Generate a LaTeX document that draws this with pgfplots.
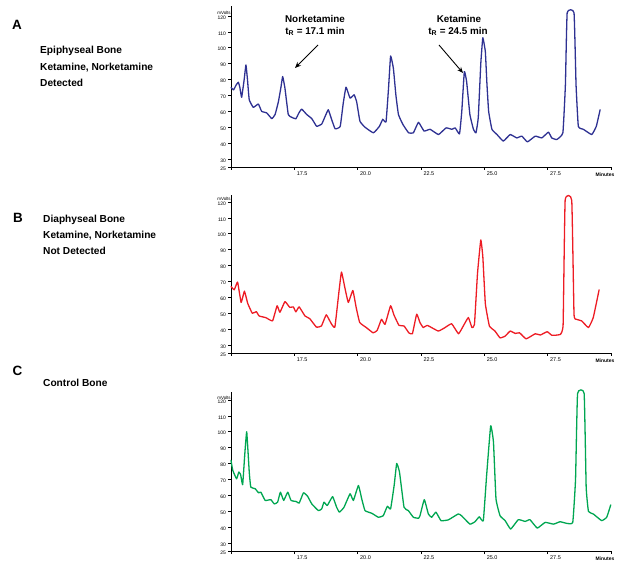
\documentclass[border=0pt]{standalone}
\usepackage{fontspec}
\setmainfont{Liberation Sans}
\usepackage{pgfplots}
\pgfplotsset{compat=1.18}
\usetikzlibrary{arrows.meta}
\definecolor{cA}{RGB}{46,49,146}
\definecolor{cB}{RGB}{237,28,36}
\definecolor{cC}{RGB}{0,166,81}
\pgfplotsset{chrom/.style={
  scale only axis, width=380bp,
  xmin=15, xmax=30, ymin=25,
  axis x line=bottom, axis y line=left,
  axis line style={-, line width=0.8bp, black},
  xtick={17.5,20,22.5,25,27.5},
  xticklabels={17.5,20.0,22.5,25.0,27.5},
  extra x ticks={15,30}, extra x tick labels={},
  ytick={25,30,40,50,60,70,80,90,100,110,120},
  yticklabels={25,30,40,50,60,70,80,90,100,110,120},
  tick align=outside,
  major tick length=3bp,
  tick style={black, line width=0.6bp},
  x tick label style={font=\fontsize{5.5}{6}\selectfont, anchor=north west, xshift=-1bp, yshift=1.5bp},
  y tick label style={font=\fontsize{5}{6}\selectfont, yshift=-1.5bp, xshift=1.5bp},
  clip=false,
  every axis plot/.append style={line width=1.3bp, line join=round, line cap=round, mark=none, smooth, tension=0.2},
}}
\begin{document}
\begin{tikzpicture}
\path[use as bounding box] (0bp,0bp) rectangle (622bp,561bp);

% Panel A
\begin{axis}[chrom, ymax=126, height=160.6bp, at={(231bp,394bp)}, anchor=south west]
\addplot[cA] coordinates {
(15.00,75) (15.10,73.5) (15.20,76.5) (15.29,78.3) (15.35,75) (15.42,68.8) (15.52,80) (15.59,89.2) (15.65,80) (15.72,67.3) (15.88,62.5)
(16.08,64.6) (16.21,60) (16.41,59) (16.61,55.4) (16.74,58) (16.87,66) (16.97,75) (17.04,81.9)
(17.13,74.5) (17.26,58) (17.39,56.3) (17.56,55.3) (17.68,59) (17.79,61.4) (17.99,58) (18.19,55.4)
(18.38,50.6) (18.58,52) (18.72,57) (18.84,61) (18.97,55) (19.11,49) (19.31,50.5) (19.43,65) (19.54,75.2)
(19.70,68.3) (19.86,70.4) (19.96,66) (20.09,53.8) (20.29,50) (20.62,46.5) (20.86,50.6)
(20.99,55) (21.12,53.4) (21.22,75) (21.30,94.8) (21.41,87) (21.51,70) (21.61,58) (21.78,51.9) (22.01,46.5)
(22.20,46.5) (22.40,53.1) (22.62,47.6) (22.86,48.7) (23.19,45.4) (23.49,49.6)
(23.72,48.7) (23.85,49.6) (24.02,45.8) (24.11,60) (24.21,85) (24.30,78.8) (24.43,58)
(24.57,48.7) (24.67,46.5) (24.76,56) (24.86,90) (24.94,106.3) (25.04,97.5) (25.10,78) (25.17,60) (25.30,48.7)
(25.50,45.4) (25.75,41.3) (26.02,45.4) (26.28,43.3) (26.48,44.4) (26.70,40.8)
(27.01,44.4) (27.27,43.3) (27.53,46.9) (27.66,43.3) (27.86,42.3) (28.10,46.5)
(28.20,76.7) (28.27,122) (28.54,122) (28.62,76.7) (28.71,50.6) (28.91,48.7)
(29.24,45.4) (29.42,50.6) (29.57,61)
};
\node[font=\fontsize{4.5}{5}\selectfont, anchor=north] at ([xshift=-7bp,yshift=-1bp]rel axis cs:0,1) {mVolts};
\node[font=\bfseries\fontsize{5}{5}\selectfont] at ([xshift=-6bp,yshift=-8bp]rel axis cs:1,0) {Minutes};
\end{axis}

% Panel B
\begin{axis}[chrom, ymax=124.5, height=158.2bp, at={(231bp,208bp)}, anchor=south west]
\addplot[cB] coordinates {
(15.00,66.8) (15.13,64.8) (15.26,69.6) (15.40,56.8) (15.53,63.9) (15.66,56.2) (15.84,50)
(16.00,51) (16.11,48.3) (16.38,47.2) (16.64,45.2) (16.82,54.7) (16.93,50.6) (17.13,57.3)
(17.32,53.7) (17.46,54) (17.56,50.9) (17.69,54) (17.92,48.3) (18.11,46.6) (18.37,41.3)
(18.57,42) (18.76,49) (18.96,43.4) (19.10,41.3) (19.25,62) (19.36,75.9) (19.49,66.4) (19.63,56.8)
(19.81,64.3) (19.94,53.7) (20.08,44.2) (20.34,41) (20.61,37.7) (20.77,39.2) (20.94,46.2)
(21.08,43) (21.30,54.7) (21.43,49) (21.63,42.4) (21.83,42) (22.02,37.7) (22.16,37.1)
(22.33,49.4) (22.46,44.1) (22.59,41) (22.75,42.4) (23.18,38.8) (23.45,41) (23.71,43.4)
(23.98,37.1) (24.17,42) (24.37,47.3) (24.51,41) (24.61,43) (24.73,75) (24.86,96.1)
(24.94,85.6) (25.04,56) (25.20,42) (25.42,38.8) (25.62,34.5) (25.82,35.6) (26.02,38.8)
(26.22,37.3) (26.39,37.7) (26.65,33.9) (27.01,37.1) (27.21,36.3) (27.48,38.4)
(27.67,36.1) (28.00,36.7) (28.11,43) (28.19,121) (28.45,121) (28.54,49.4) (28.64,46.2)
(28.84,45.2) (29.11,41) (29.30,47.3) (29.53,64.7)
};
\node[font=\fontsize{4.5}{5}\selectfont, anchor=north] at ([xshift=-7bp,yshift=1bp]rel axis cs:0,1) {mVolts};
\node[font=\bfseries\fontsize{5}{5}\selectfont] at ([xshift=-6bp,yshift=-8bp]rel axis cs:1,0) {Minutes};
\end{axis}

% Panel C
\begin{axis}[chrom, ymax=125, height=159bp, at={(231bp,10bp)}, anchor=south west]
\addplot[cC] coordinates {
(15.00,82) (15.07,75.7) (15.22,70.4) (15.31,74.7) (15.38,73) (15.46,66.7) (15.54,85) (15.62,100)
(15.72,74.7) (15.78,65.2) (15.95,64.2) (16.09,61.6) (16.18,62) (16.35,56.8) (16.57,57.3)
(16.71,54.6) (16.84,55.7) (16.95,62) (17.08,56.8) (17.24,62) (17.37,56.8) (17.58,56.1)
(17.69,55.1) (17.86,61.6) (18.02,59.5) (18.19,54.6) (18.45,50.4) (18.58,51.5)
(18.67,55.7) (18.80,53.6) (19.01,59.2) (19.17,52.5) (19.28,49.4) (19.46,52.5)
(19.70,61) (19.83,56.8) (20.03,66.2) (20.16,57.8) (20.29,50.4) (20.56,48.7) (20.82,46.2)
(21.01,47.2) (21.17,53.1) (21.30,51.5) (21.44,66.2) (21.54,80) (21.65,74.7) (21.83,52.5)
(22.00,50.4) (22.20,46.2) (22.40,45.6) (22.46,47.2) (22.63,57.3) (22.79,48.3)
(22.92,46.2) (23.09,49.4) (23.29,44.1) (23.58,44.6) (23.97,48.3) (24.10,47.2)
(24.43,41.9) (24.63,43.4) (24.80,46.5) (24.96,44.1) (25.09,72.5) (25.25,103.7)
(25.36,93.6) (25.46,57.8) (25.62,47.2) (25.82,44.1) (26.04,38.8) (26.34,44.7)
(26.61,43.6) (26.80,44.7) (27.09,39.4) (27.40,43) (27.73,41.9) (27.99,43.4) (28.25,42.4)
(28.49,43) (28.60,70) (28.68,124) (28.94,124) (29.02,65) (29.11,49.9) (29.30,48.3)
(29.63,44.1) (29.83,46.2) (29.99,54)
};
\node[font=\fontsize{4.5}{5}\selectfont, anchor=north] at ([xshift=-7bp,yshift=-1bp]rel axis cs:0,1) {mVolts};
\node[font=\bfseries\fontsize{5}{5}\selectfont] at ([xshift=-6bp,yshift=-8bp]rel axis cs:1,0) {Minutes};
\end{axis}

\begin{scope}[x=1bp,y=1bp]
% Left labels
\begin{scope}[every node/.style={anchor=base west, inner sep=0pt}]
\node[font=\bfseries\fontsize{13.5}{14}\selectfont] at (12,531.7) {A};
\node[font=\bfseries\fontsize{10.2}{12}\selectfont] at (40,507.7) {Epiphyseal Bone};
\node[font=\bfseries\fontsize{10.2}{12}\selectfont] at (40,490.3) {Ketamine, Norketamine};
\node[font=\bfseries\fontsize{10.2}{12}\selectfont] at (40,474.3) {Detected};
\node[font=\bfseries\fontsize{13.5}{14}\selectfont] at (13,339) {B};
\node[font=\bfseries\fontsize{10.2}{12}\selectfont] at (43,338.7) {Diaphyseal Bone};
\node[font=\bfseries\fontsize{10.2}{12}\selectfont] at (43,322.7) {Ketamine, Norketamine};
\node[font=\bfseries\fontsize{10.2}{12}\selectfont] at (43,306.7) {Not Detected};
\node[font=\bfseries\fontsize{13.5}{14}\selectfont] at (12.5,186) {C};
\node[font=\bfseries\fontsize{10.2}{12}\selectfont] at (43,174.3) {Control Bone};
\end{scope}
% Annotations
\begin{scope}[every node/.style={anchor=base, inner sep=0pt, font=\bfseries\fontsize{9.9}{11}\selectfont}]
\node at (315,538.3) {Norketamine};
\node at (315,526.7) {t\textsubscript{R} = 17.1 min};
\node at (459,538.3) {Ketamine};
\node at (458,526.7) {t\textsubscript{R} = 24.5 min};
\end{scope}
\draw[-{Stealth[length=6bp,width=5bp]}, line width=0.9bp] (318,516) -- (295,493);
\draw[-{Stealth[length=6bp,width=5bp]}, line width=0.9bp] (439,516) -- (463,488);
\end{scope}
\end{tikzpicture}
\end{document}
